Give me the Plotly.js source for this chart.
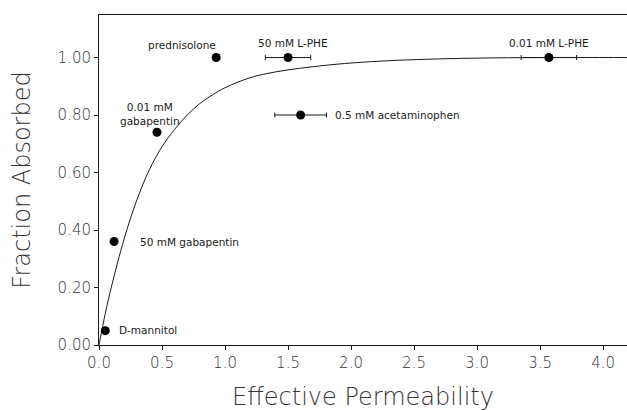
<!DOCTYPE html>
<html>
<head>
<meta charset="utf-8">
<script src="https://cdn.plot.ly/plotly-3.0.1.min.js"></script>
<style>html,body{margin:0;padding:0;background:#fff;}#chart{width:627px;height:411px;}</style>
</head>
<body>
<div id="chart"></div>
<script>
// Compounds (data points)
const compounds = ["D-mannitol", "50 mM gabapentin", "0.01 mM<br>gabapentin", "prednisolone", "50 mM L-PHE", "0.5 mM acetaminophen", "0.01 mM L-PHE"];
const peff = [0.05, 0.12, 0.46, 0.93, 1.50, 1.60, 3.57];
const fracAbsorbed = [0.05, 0.36, 0.74, 1.00, 1.00, 0.80, 1.00];
const peffError = [0, 0, 0, 0, 0.18, 0.205, 0.22];

// Fitted curve
const curveX = [0, 0.05, 0.10, 0.20, 0.30, 0.40, 0.50, 0.60, 0.70, 0.80, 0.90, 1.00, 1.20, 1.40, 1.60, 1.80, 2.00, 2.30, 2.60, 3.00, 3.50, 4.20];
const curveY = [0, 0.11, 0.205, 0.37, 0.504, 0.61, 0.69, 0.75, 0.80, 0.84, 0.87, 0.895, 0.93, 0.95, 0.963, 0.973, 0.981, 0.989, 0.994, 0.998, 1.0, 1.0];

// Tick labels
const xTicks = [0, 0.5, 1.0, 1.5, 2.0, 2.5, 3.0, 3.5, 4.0];
const xTickText = ["0.0", "0.5", "1.0", "1.5", "2.0", "2.5", "3.0", "3.5", "4.0"];
const yTicks = [0, 0.2, 0.4, 0.6, 0.8, 1.0];
const yTickText = ["0.00", "0.20", "0.40", "0.60", "0.80", "1.00"];

// label placement (offsets in px relative to the point)
const labelPos = [
  {xa: "left", dx: 12, dy: 1},
  {xa: "left", dx: 24, dy: 0},
  {xa: "center", dx: -7, dy: 18},
  {xa: "center", dx: -34, dy: 13},
  {xa: "center", dx: 5, dy: 15},
  {xa: "left", dx: 32, dy: 0},
  {xa: "center", dx: 0, dy: 15}
];

const ink = "#1a1a1a";

const curve = {
  x: curveX, y: curveY, type: "scatter", mode: "lines",
  line: {color: ink, width: 1, shape: "spline", smoothing: 1},
  hoverinfo: "skip", showlegend: false
};

const pts = {
  x: peff, y: fracAbsorbed, type: "scatter", mode: "markers",
  marker: {color: "#000", size: 9},
  error_x: {type: "data", array: peffError, visible: true, color: ink, thickness: 1, width: 2.5},
  showlegend: false
};

const annotations = compounds.map((c, i) => ({
  x: peff[i], y: fracAbsorbed[i], xref: "x", yref: "y",
  text: c, showarrow: false,
  xanchor: labelPos[i].xa, yanchor: "middle",
  xshift: labelPos[i].dx, yshift: labelPos[i].dy,
  font: {family: "DejaVu Sans", size: 10.5, color: ink}
}));

const layout = {
  width: 627, height: 411,
  margin: {l: 99, r: 0, t: 15, b: 66},
  paper_bgcolor: "#fff", plot_bgcolor: "#fff",
  showlegend: false,
  xaxis: {
    range: [0, 4.19], tickvals: xTicks, ticktext: xTickText,
    showgrid: false, zeroline: false,
    showline: true, linecolor: ink, linewidth: 1, mirror: true,
    ticks: "outside", ticklen: 4, tickcolor: ink,
    tickfont: {family: "DejaVu Sans", size: 15, color: "#333", weight: 200},
    title: {text: "Effective Permeability", font: {family: "DejaVu Sans", size: 24, color: "#333", weight: 200}, standoff: 19}
  },
  yaxis: {
    range: [0, 1.148], tickvals: yTicks, ticktext: yTickText,
    showgrid: false, zeroline: false,
    showline: true, linecolor: ink, linewidth: 1,
    ticks: "outside", ticklen: 4, tickcolor: ink,
    tickfont: {family: "DejaVu Sans", size: 15, color: "#333", weight: 200},
    title: {text: "Fraction Absorbed", font: {family: "DejaVu Sans", size: 24, color: "#333", weight: 200}, standoff: 20}
  },
  annotations: annotations
};

Plotly.newPlot("chart", [curve, pts], layout, {displayModeBar: false, staticPlot: true});
</script>
</body>
</html>
